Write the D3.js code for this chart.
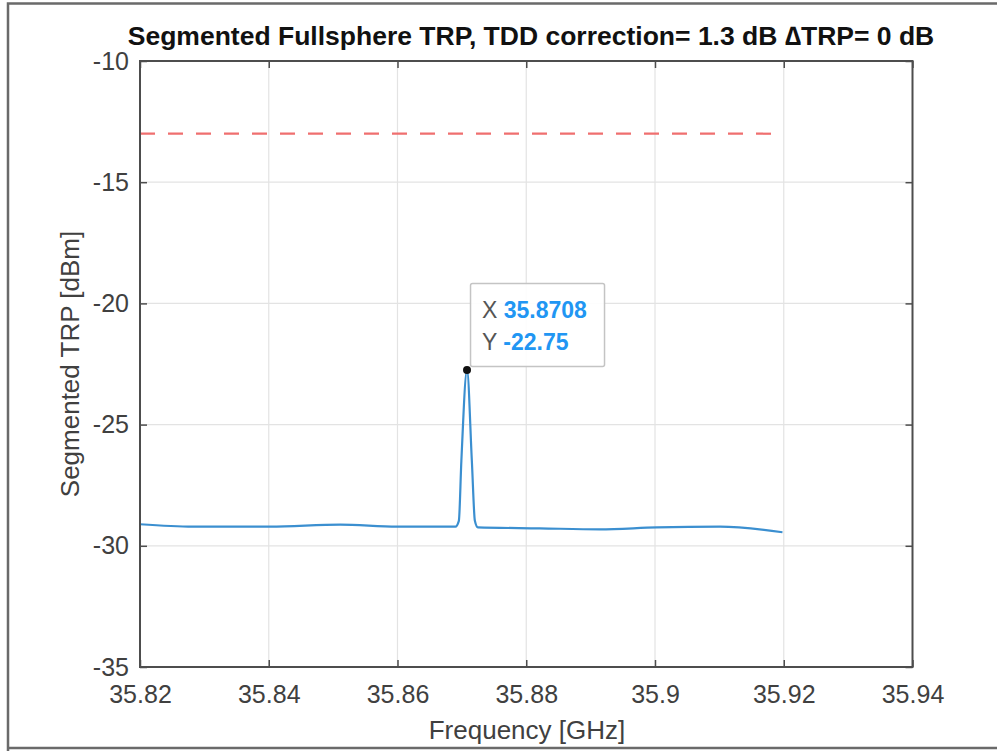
<!DOCTYPE html>
<html>
<head>
<meta charset="utf-8">
<script src="https://cdn.jsdelivr.net/npm/d3@7"></script>
<style>
  html, body { margin: 0; padding: 0; background: #fff; }
  svg { display: block; font-family: "Liberation Sans", Arial, Helvetica, sans-serif; }
</style>
</head>
<body>
<svg id="chart" width="997" height="751"></svg>
<script>
// ---- data ----
const freqGHz = [35.8200, 35.8282, 35.8402, 35.8511, 35.8599, 35.8690, 35.86953, 35.86992, 35.8708, 35.87155, 35.87202, 35.87248, 35.8821, 35.8914, 35.9003, 35.9101, 35.9198];
const trpDbm  = [-29.11, -29.21, -29.21, -29.13, -29.21, -29.21, -28.97, -26.5, -22.75, -26.5, -28.97, -29.24, -29.28, -29.32, -29.24, -29.21, -29.44];
const limitFreq = [35.82, 35.92];
const limitDbm = [-13, -13];
const xTicks = [35.82, 35.84, 35.86, 35.88, 35.9, 35.92, 35.94];
const xTickLabels = ["35.82", "35.84", "35.86", "35.88", "35.9", "35.92", "35.94"];
const yTicks = [-35, -30, -25, -20, -15, -10];
const yTickLabels = ["-35", "-30", "-25", "-20", "-15", "-10"];
const peak = { x: 35.8708, y: -22.75, xLabel: "35.8708", yLabel: "-22.75" };
const titleText = "Segmented Fullsphere TRP, TDD correction= 1.3 dB \u2206TRP= 0 dB";
const xLabelText = "Frequency [GHz]";
const yLabelText = "Segmented TRP [dBm]";

// ---- layout ----
const svg = d3.select("#chart");
const L = 140, R = 912.5, T = 61, B = 667;
const x = d3.scaleLinear().domain([35.82, 35.94]).range([L, R]);
const y = d3.scaleLinear().domain([-35, -10]).range([B, T]);
const axisCol = "#4d4d4d", textCol = "#404040";

// outer frame (left, top, bottom)
svg.append("path").attr("d", "M8,751 L8,3.5 L997,3.5 M8,748 L997,748")
  .attr("fill", "none").attr("stroke", "#6a6a6a").attr("stroke-width", 2.5);

// grid
const g = svg.append("g");
g.selectAll("line.gx").data(xTicks.slice(1, -1)).join("line")
  .attr("x1", d => x(d)).attr("x2", d => x(d)).attr("y1", T).attr("y2", B)
  .attr("stroke", "#e3e3e3").attr("stroke-width", 1.2);
g.selectAll("line.gy").data(yTicks.slice(1, -1)).join("line")
  .attr("y1", d => y(d)).attr("y2", d => y(d)).attr("x1", L).attr("x2", R)
  .attr("stroke", "#e3e3e3").attr("stroke-width", 1.2);

// limit line
svg.append("path")
  .attr("d", d3.line().x((d, i) => x(limitFreq[i])).y(d => y(d))(limitDbm))
  .attr("fill", "none").attr("stroke", "#ef6f6f").attr("stroke-width", 2.2)
  .attr("stroke-dasharray", "15,13");

// data line
svg.append("path")
  .attr("d", d3.line().x((d, i) => x(freqGHz[i])).y(d => y(d)).curve(d3.curveMonotoneX)(trpDbm))
  .attr("fill", "none").attr("stroke", "#3b8fd0").attr("stroke-width", 2.2)
  .attr("stroke-linejoin", "round");

// axes
const xAxisB = d3.axisBottom(x).tickValues(xTicks).tickFormat((d, i) => xTickLabels[i]).tickSizeInner(-7).tickSizeOuter(0).tickPadding(18);
const xAxisT = d3.axisTop(x).tickValues(xTicks).tickFormat("").tickSizeInner(-7).tickSizeOuter(0);
const yAxisL = d3.axisLeft(y).tickValues(yTicks).tickFormat((d, i) => yTickLabels[i]).tickSizeInner(-7).tickSizeOuter(0).tickPadding(11);
const yAxisR = d3.axisRight(y).tickValues(yTicks).tickFormat("").tickSizeInner(-7).tickSizeOuter(0);

function styleAxis(sel) {
  sel.select(".domain").remove();
  sel.selectAll(".tick line").attr("stroke", axisCol).attr("stroke-width", 1.5);
  sel.selectAll("text").attr("fill", textCol).attr("font-size", 25);
}
svg.append("g").attr("transform", `translate(0,${B})`).call(xAxisB).call(styleAxis);
svg.append("g").attr("transform", `translate(0,${T})`).call(xAxisT).call(styleAxis);
svg.append("g").attr("transform", `translate(${L},0)`).call(yAxisL).call(styleAxis);
svg.append("g").attr("transform", `translate(${R},0)`).call(yAxisR).call(styleAxis);

// box
svg.append("rect").attr("x", L).attr("y", T).attr("width", R - L).attr("height", B - T)
  .attr("fill", "none").attr("stroke", axisCol).attr("stroke-width", 2);

// title and labels
svg.append("text").attr("x", 531).attr("y", 45).attr("text-anchor", "middle")
  .attr("font-size", 26.5).attr("font-weight", "bold").attr("fill", "#111").text(titleText);
svg.append("text").attr("x", 527).attr("y", 739).attr("text-anchor", "middle")
  .attr("font-size", 26).attr("fill", textCol).text(xLabelText);
svg.append("text").attr("transform", "translate(79,364) rotate(-90)").attr("text-anchor", "middle")
  .attr("font-size", 26).attr("fill", textCol).text(yLabelText);

// datatip
const px = x(peak.x), py = y(peak.y);
svg.append("rect").attr("x", px + 3.5).attr("y", py - 86.5).attr("width", 134).attr("height", 83)
  .attr("rx", 2).attr("fill", "#fff").attr("fill-opacity", 0.9).attr("stroke", "#c4c4c4").attr("stroke-width", 1.5);
const tip = svg.append("g").attr("font-size", 23);
const r1 = tip.append("text").attr("x", px + 15).attr("y", py - 52);
r1.append("tspan").attr("fill", "#555").text("X ");
r1.append("tspan").attr("fill", "#2196f3").attr("font-weight", "bold").text(peak.xLabel);
const r2 = tip.append("text").attr("x", px + 15).attr("y", py - 20);
r2.append("tspan").attr("fill", "#555").text("Y ");
r2.append("tspan").attr("fill", "#2196f3").attr("font-weight", "bold").text(peak.yLabel);
svg.append("circle").attr("cx", px).attr("cy", py).attr("r", 4).attr("fill", "#111");
</script>
</body>
</html>
